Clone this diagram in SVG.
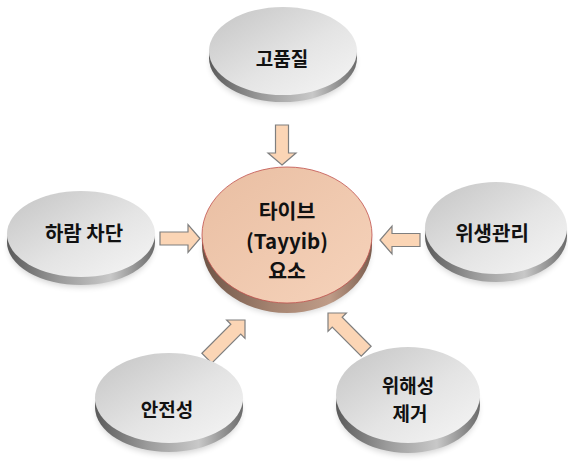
<svg xmlns="http://www.w3.org/2000/svg" width="568" height="470" viewBox="0 0 568 470">
<defs>
<linearGradient id="face" x1="0" y1="0" x2="1" y2="1">
<stop offset="0" stop-color="#c4c4c4"/>
<stop offset="0.55" stop-color="#e4e4e4"/>
<stop offset="1" stop-color="#f6f6f6"/>
</linearGradient>
<linearGradient id="side" x1="0" y1="0" x2="1" y2="0">
<stop offset="0" stop-color="#5a5a5a"/>
<stop offset="0.35" stop-color="#9a9a9a"/>
<stop offset="0.7" stop-color="#c8c8c8"/>
<stop offset="1" stop-color="#6a6a6a"/>
</linearGradient>
<linearGradient id="cface" x1="0" y1="0" x2="1" y2="1">
<stop offset="0" stop-color="#e9bea2"/>
<stop offset="1" stop-color="#f6d3bb"/>
</linearGradient>
<linearGradient id="cside" x1="0" y1="0" x2="1" y2="0">
<stop offset="0" stop-color="#6e5446"/>
<stop offset="0.4" stop-color="#a3826f"/>
<stop offset="0.75" stop-color="#bf9c88"/>
<stop offset="1" stop-color="#7a5d4e"/>
</linearGradient>
<filter id="sh" x="-20%" y="-20%" width="140%" height="150%">
<feGaussianBlur stdDeviation="3"/>
</filter>
<path id="arr" d="M0,0 L-12,-14 L-12,-6.5 L-40,-6.5 L-40,6.5 L-12,6.5 L-12,14 Z"/>
<path id="arrd" d="M0,0 L-13,-13 L-13,-7 L-54,-7 L-54,7 L-13,7 L-13,13 Z"/>
</defs>
<style>
.sh{fill:#000;opacity:0.18;filter:url(#sh)}
.side{fill:url(#side)}
.face{fill:url(#face)}
.cside{fill:url(#cside)}
.cface{fill:url(#cface);stroke:#c0504d;stroke-width:0.8}
.t{font-family:"Noto Sans CJK KR","Noto Sans",sans-serif;font-weight:bold;fill:#111;text-anchor:middle;dominant-baseline:central}
.a{fill:#fbd5b5;stroke:#7f7f7f;stroke-width:1.2;stroke-linejoin:miter}
</style>
<rect width="568" height="470" fill="#fff"/>
<g id="connectors">
<use href="#arr" class="a" transform="translate(200,238.5)"/>
<use href="#arr" class="a" transform="translate(380,240) rotate(180)"/>
<use href="#arr" class="a" transform="translate(282,165) rotate(90)"/>
<use href="#arrd" class="a" transform="translate(245,320) rotate(-45)"/>
<use href="#arrd" class="a" transform="translate(328,313) rotate(-135)"/>
</g>
<g id="n-top">
<ellipse class="sh" cx="283" cy="62" rx="72" ry="42"/>
<ellipse class="side" cx="283" cy="58" rx="74" ry="44"/>
<ellipse class="face" cx="283" cy="51" rx="74" ry="44"/>
<text class="t" x="282" y="57" font-size="19">고품질</text>
</g>
<g id="n-center">
<ellipse class="sh" cx="287" cy="248" rx="83" ry="66"/>
<ellipse class="cside" cx="287" cy="245" rx="85" ry="68"/>
<ellipse class="cface" cx="287" cy="235" rx="85" ry="68"/>
<text class="t" x="287" y="210" font-size="20.5">타이브</text>
<text class="t" x="287" y="240" font-size="20.5">(Tayyib)</text>
<text class="t" x="287" y="270" font-size="20.5">요소</text>
</g>
<g id="n-left">
<ellipse class="sh" cx="81" cy="246" rx="72" ry="41"/>
<ellipse class="side" cx="81" cy="242" rx="74" ry="43"/>
<ellipse class="face" cx="81" cy="234" rx="74" ry="43"/>
<text class="t" x="84" y="232" font-size="20">하람 차단</text>
</g>
<g id="n-right">
<ellipse class="sh" cx="496" cy="240" rx="69" ry="44"/>
<ellipse class="side" cx="496" cy="236" rx="71" ry="46"/>
<ellipse class="face" cx="496" cy="228" rx="71" ry="46"/>
<text class="t" x="492" y="232" font-size="20">위생관리</text>
</g>
<g id="n-bl">
<ellipse class="sh" cx="169" cy="411" rx="72" ry="43"/>
<ellipse class="side" cx="169" cy="407" rx="74" ry="45"/>
<ellipse class="face" cx="169" cy="398" rx="74" ry="45"/>
<text class="t" x="167" y="408" font-size="19">안전성</text>
</g>
<g id="n-br">
<ellipse class="sh" cx="408" cy="409" rx="70" ry="46"/>
<ellipse class="side" cx="408" cy="405" rx="72" ry="48"/>
<ellipse class="face" cx="408" cy="395" rx="72" ry="48"/>
<text class="t" x="408" y="384" font-size="19">위해성</text>
<text class="t" x="410" y="412" font-size="19">제거</text>
</g>
</svg>
